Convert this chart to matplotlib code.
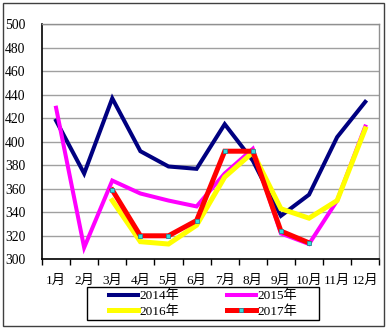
import matplotlib
matplotlib.use("Agg")
import matplotlib.pyplot as plt
from matplotlib.patches import Rectangle

plt.rcParams['font.family'] = ['Liberation Serif', 'Noto Sans CJK SC']

months = ['1月', '2月', '3月', '4月', '5月', '6月', '7月', '8月', '9月', '10月', '11月', '12月']

# monthly values per year (None = no data)
y2014 = [418, 373, 437, 392, 379, 377, 415, 384, 337, 355, 404, 434]
y2015 = [429, 310, 367, 356, 350, 345, 373, 394, 322, 313, 350, 413]
y2016 = [None, None, 350, 315, 313, 329, 370, 391, 343, 335, 350, 411]
y2017 = [None, None, 359, 320, 320, 333, 392, 392, 324, 314, None, None]

years = ['2014年', '2015年', '2016年', '2017年']
colors = ['#000080', '#ff00ff', '#ffff00', '#ff0000']
widths = [2.9, 2.9, 3.6, 3.6]

fig = plt.figure(figsize=(3.87, 3.29), dpi=100)
ax = fig.add_axes([42 / 387, 1 - 259.3 / 329, (379.3 - 42) / 387, (259.3 - 24.3) / 329])

x = list(range(len(months)))
lines = {}
for name, vals, c, lw in zip(years, [y2014, y2015, y2016, y2017], colors, widths):
    xs = [i for i, v in zip(x, vals) if v is not None]
    vs = [v for v in vals if v is not None]
    if name == '2017年':
        ln, = ax.plot(xs, vs, color=c, lw=lw, marker='s', markersize=3.4,
                      markerfacecolor='#33dddd', markeredgecolor='#2a8a9a',
                      markeredgewidth=0.6, solid_joinstyle='miter')
    else:
        ln, = ax.plot(xs, vs, color=c, lw=lw, solid_joinstyle='miter')
    lines[name] = ln

ax.set_xlim(-0.5, 11.5)
ax.set_ylim(300, 500)
ax.set_yticks(range(300, 501, 20))
ax.tick_params(axis='y', length=0, pad=12, labelsize=9.8)
ax.yaxis.grid(True, color='#a0a0a0', lw=1)
ax.set_axisbelow(True)

# tick marks sit on the category boundaries, labels in the middle
ax.set_xticks([i - 0.5 for i in range(13)])
ax.set_xticklabels([])
ax.set_xticks(x, minor=True)
ax.set_xticklabels(months, minor=True)
ax.tick_params(axis='x', which='major', direction='out', length=4, width=1, color='black')
ax.tick_params(axis='x', which='minor', length=0, pad=11, labelsize=9.5)

for side in ['left', 'bottom']:
    ax.spines[side].set_color('black')
    ax.spines[side].set_linewidth(1.2)
for side in ['top', 'right']:
    ax.spines[side].set_color('#909090')
    ax.spines[side].set_linewidth(1)

order = ['2014年', '2016年', '2015年', '2017年']
fig.legend([lines[k] for k in order], order, ncol=2, frameon=False,
           loc='center', bbox_to_anchor=(203 / 387, 1 - 303.7 / 329),
           fontsize=9.5, handlelength=2.2, handletextpad=0.1,
           columnspacing=3.6, labelspacing=0.2, numpoints=1,
           borderpad=0, borderaxespad=0)

# legend box and outer frame
fig.patches.append(Rectangle((87.3 / 387, 1 - 320 / 329), (318.7 - 87.3) / 387, 32.7 / 329,
                             transform=fig.transFigure, fill=False,
                             edgecolor='black', lw=1))
fig.patches.append(Rectangle((3.3 / 387, 1 - 325.7 / 329), (384.3 - 3.3) / 387, (325.7 - 3.3) / 329,
                             transform=fig.transFigure, fill=False,
                             edgecolor='#404040', lw=1))

fig.savefig('out.png', dpi=100)
